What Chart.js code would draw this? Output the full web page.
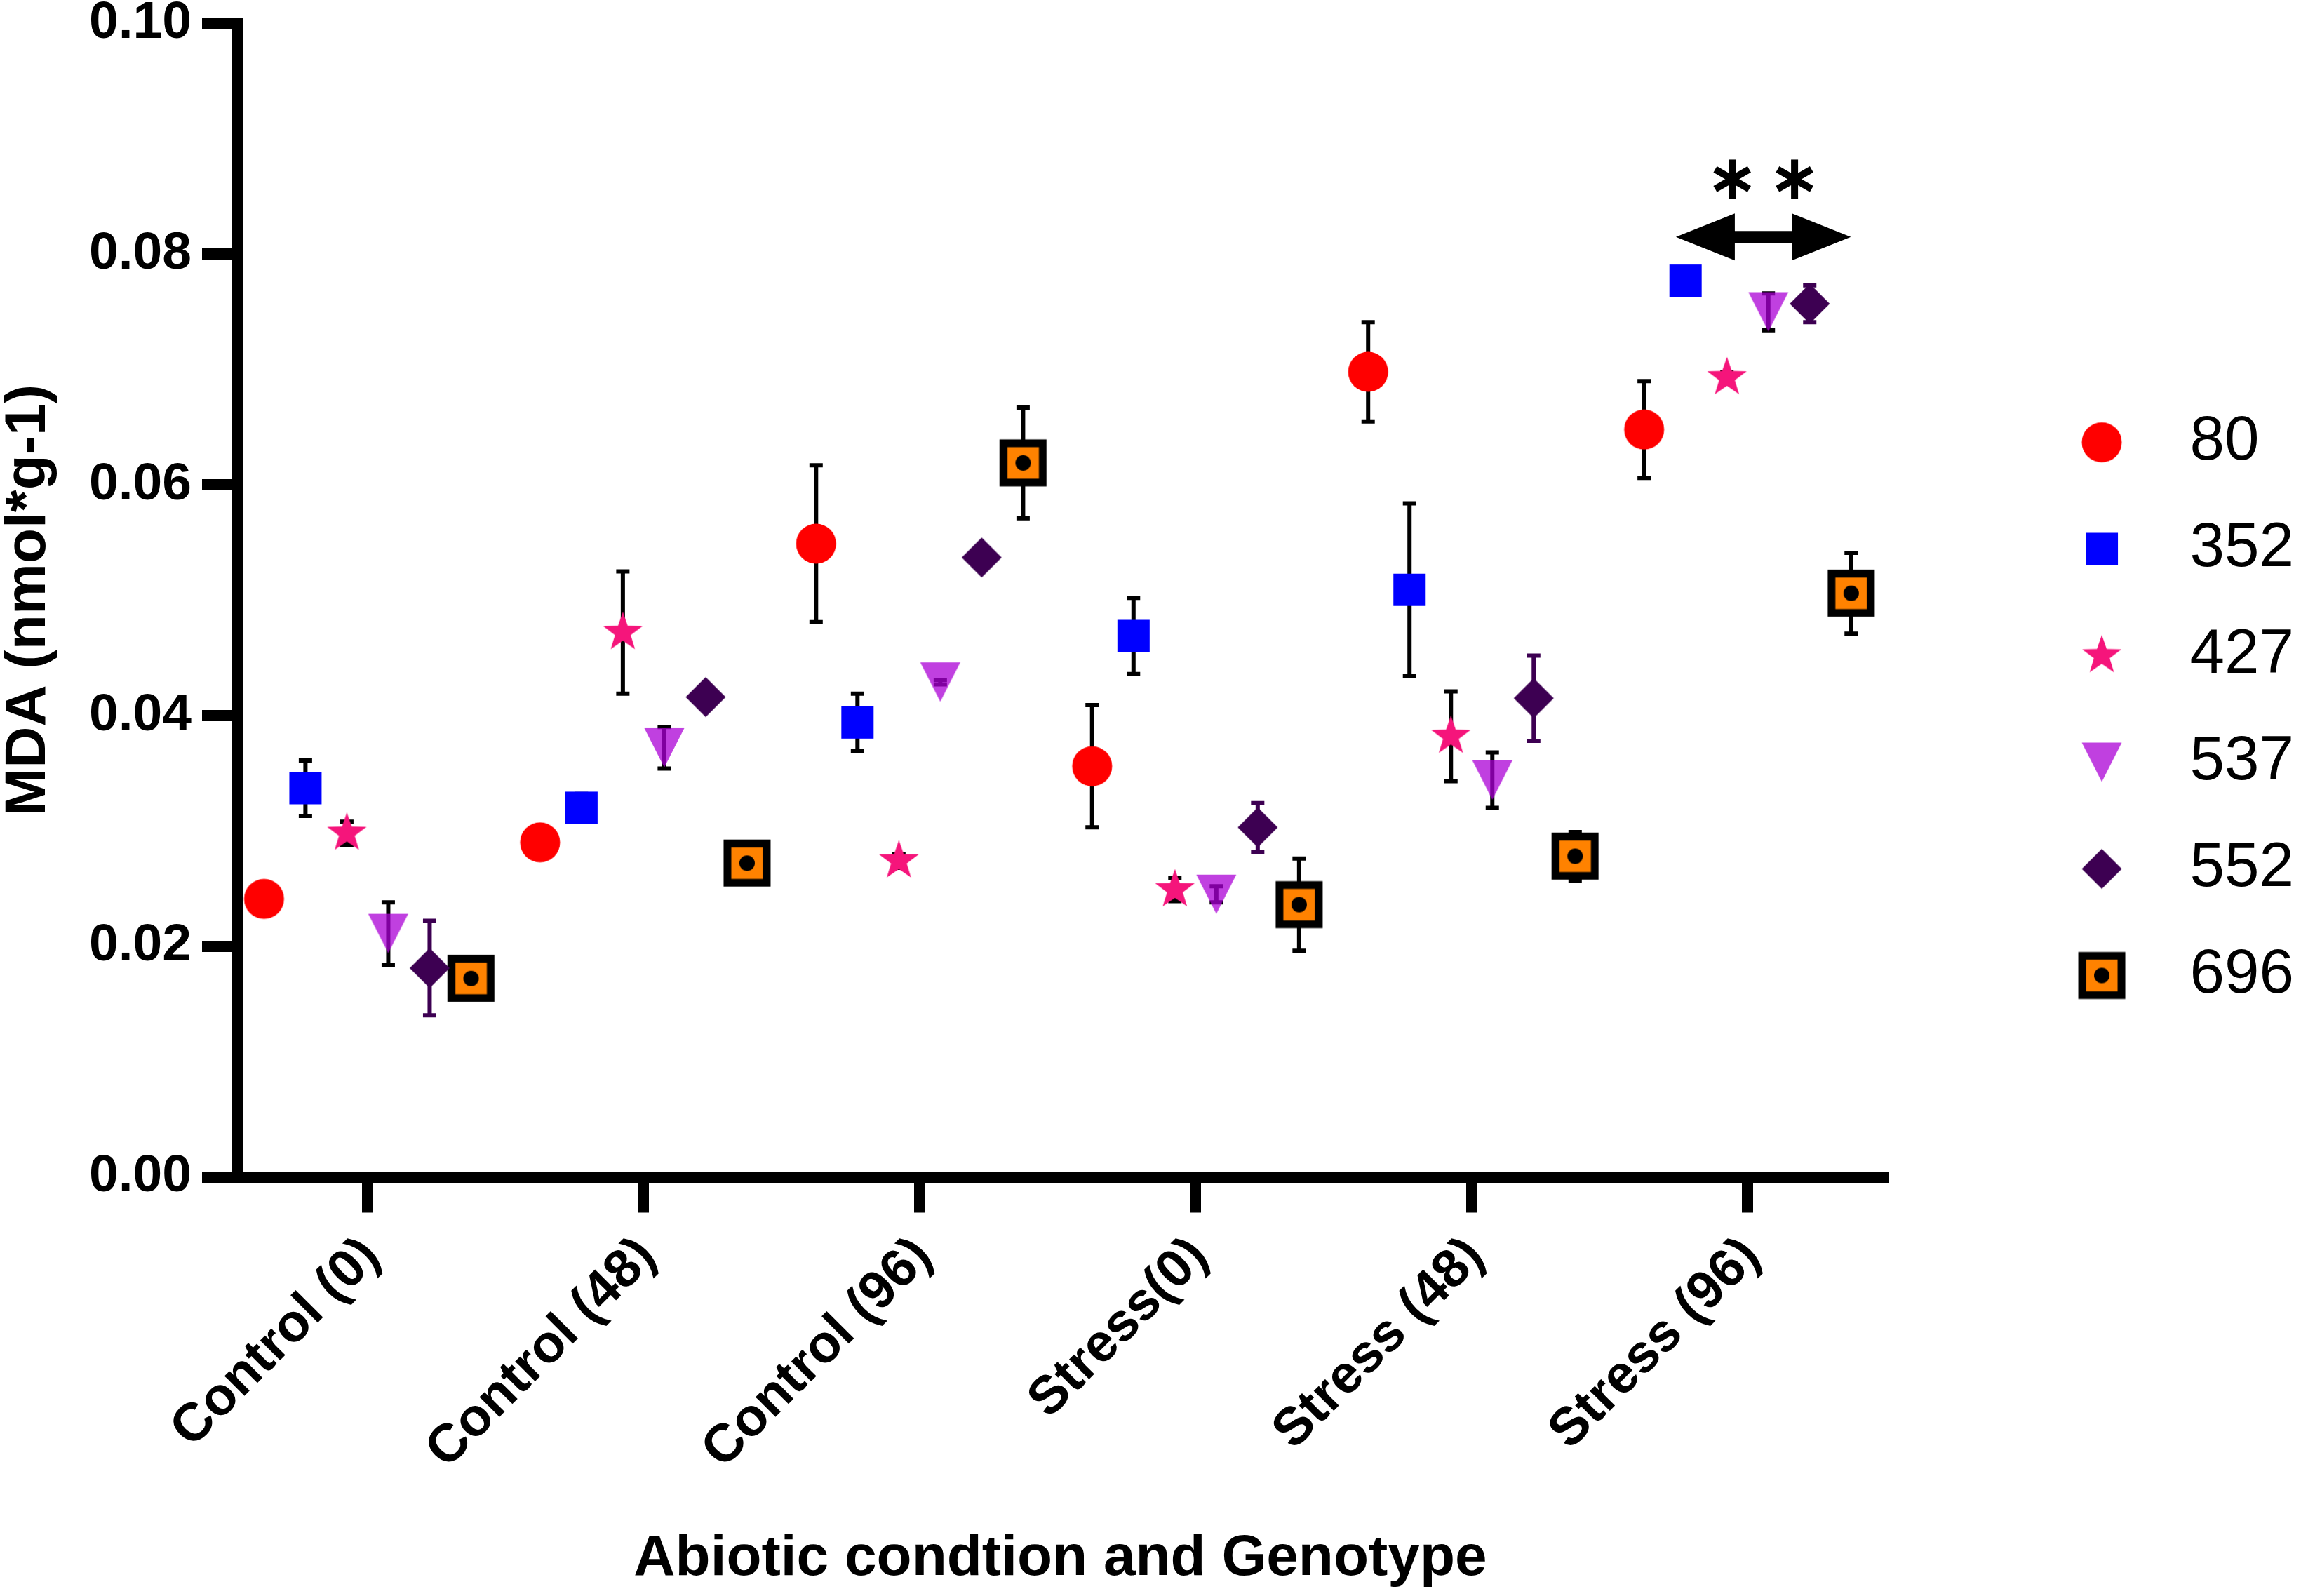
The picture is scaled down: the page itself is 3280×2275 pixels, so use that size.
<!DOCTYPE html>
<html>
<head>
<meta charset="utf-8">
<script src="https://cdn.jsdelivr.net/npm/chart.js@4.4.1/dist/chart.umd.min.js"></script>
<style>
html,body{margin:0;padding:0;background:#fff;}
#wrap{width:3280px;height:2275px;}
</style>
</head>
<body>
<div id="wrap"><canvas id="c" width="3280" height="2275" style="width:3280px;height:2275px"></canvas></div>
<script>
// ---------- data ----------
const categories = ['Control (0)', 'Control (48)', 'Control (96)', 'Stress(0)', 'Stress (48)', 'Stress (96)'];
const genotypes = ['80', '352', '427', '537', '552', '696'];

const mda80  = [0.0241, 0.0290, 0.0549, 0.0356, 0.0698, 0.0648];
const err80  = [0.0010, 0.0010, 0.0068, 0.0053, 0.0043, 0.0042];
const mda352 = [0.0337, 0.0320, 0.0394, 0.0469, 0.0509, 0.0777];
const err352 = [0.0024, 0.0012, 0.0025, 0.0033, 0.0075, 0.0010];
const mda427 = [0.0298, 0.0472, 0.0274, 0.0249, 0.0382, 0.0693];
const err427 = [0.0010, 0.0053, 0.0006, 0.0010, 0.0039, 0.0005];
const mda537 = [0.0211, 0.0372, 0.0429, 0.0245, 0.0344, 0.0750];
const err537 = [0.0027, 0.0018, 0.0002, 0.0007, 0.0024, 0.0016];
const mda552 = [0.0181, 0.0416, 0.0537, 0.0303, 0.0415, 0.0757];
const err552 = [0.0041, 0.0000, 0.0000, 0.0021, 0.0037, 0.0016];
const mda696 = [0.0172, 0.0272, 0.0619, 0.0236, 0.0278, 0.0506];
const err696 = [0.0010, 0.0010, 0.0048, 0.0040, 0.0021, 0.0035];

const yTickValues = [0, 0.02, 0.04, 0.06, 0.08, 0.10];

// significance annotation on the last group (relative to group centre, in category units)
const sigGroup = 5;
const sigArrowFrom = -0.26, sigArrowTo = 0.374, sigArrowY = 0.0815;
const sigStarsAt = [-0.056, 0.17], sigStarsY = 0.0865;

// ---------- styling ----------
const seriesValues = [mda80, mda352, mda427, mda537, mda552, mda696];
const seriesErrors = [err80, err352, err427, err537, err552, err696];
const errColors = ['#000', '#000', '#000', '#000', '#3D0052', '#000'];
const dodge = 0.15;
const FONT = '"Liberation Sans", Arial, Helvetica, sans-serif';

const shapeDrawers = [
  (g, cx, cy) => { g.fillStyle = '#FF0000'; g.beginPath(); g.arc(cx, cy, 28.5, 0, Math.PI * 2); g.fill(); },
  (g, cx, cy) => { g.fillStyle = '#0000FF'; g.fillRect(cx - 23, cy - 23, 46, 46); },
  (g, cx, cy) => {
    g.fillStyle = '#F5157B'; g.beginPath();
    for (let k = 0; k < 10; k++) {
      const r = k % 2 ? 11.8 : 29.5;
      const a = -Math.PI / 2 + k * Math.PI / 5;
      g.lineTo(cx + r * Math.cos(a), cy + r * Math.sin(a));
    }
    g.closePath(); g.fill();
  },
  (g, cx, cy) => {
    g.fillStyle = 'rgba(171,0,213,0.75)'; g.beginPath();
    g.moveTo(cx - 28.5, cy - 28); g.lineTo(cx + 28.5, cy - 28); g.lineTo(cx, cy + 28);
    g.closePath(); g.fill();
  },
  (g, cx, cy) => {
    g.fillStyle = '#3D0052'; g.beginPath();
    g.moveTo(cx, cy - 28.5); g.lineTo(cx + 28.5, cy); g.lineTo(cx, cy + 28.5); g.lineTo(cx - 28.5, cy);
    g.closePath(); g.fill();
  },
  (g, cx, cy) => {
    g.fillStyle = '#000'; g.fillRect(cx - 33.5, cy - 33.5, 67, 67);
    g.fillStyle = '#FF8200'; g.fillRect(cx - 22.5, cy - 22.5, 45, 45);
    g.fillStyle = '#000'; g.beginPath(); g.arc(cx, cy, 11, 0, Math.PI * 2); g.fill();
  }
];

function makeCanvas(w, h, cx, cy, draw) {
  const c = document.createElement('canvas');
  c.width = w; c.height = h;
  draw(c.getContext('2d'), cx, cy);
  return c;
}
const markerImgs = shapeDrawers.map(d => makeCanvas(72, 72, 36, 36, d));
const LEGEND_BOX = 330;
const legendImgs = shapeDrawers.map(d => makeCanvas(LEGEND_BOX, 80, 249, 40, d));

const datasets = genotypes.map((g, i) => ({
  label: g,
  data: seriesValues[i].map((v, j) => ({ x: j + (i - 2.5) * dodge, y: v })),
  pointStyle: markerImgs[i],
  pointRadius: 30,
  pointHoverRadius: 30,
  showLine: false
}));

// ---------- plugins ----------
const errorBarPlugin = {
  id: 'errbars',
  beforeDatasetsDraw(chart) {
    const { ctx } = chart;
    const xs = chart.scales.x, ys = chart.scales.y;
    ctx.save();
    ctx.lineWidth = 6;
    ctx.lineCap = 'butt';
    chart.data.datasets.forEach((ds, i) => {
      ctx.strokeStyle = errColors[i];
      ds.data.forEach((p, j) => {
        const e = seriesErrors[i][j];
        if (!e) return;
        const px = xs.getPixelForValue(p.x);
        const yt = ys.getPixelForValue(p.y + e);
        const yb = ys.getPixelForValue(p.y - e);
        ctx.beginPath();
        ctx.moveTo(px, yt); ctx.lineTo(px, yb);
        ctx.moveTo(px - 9.5, yt); ctx.lineTo(px + 9.5, yt);
        ctx.moveTo(px - 9.5, yb); ctx.lineTo(px + 9.5, yb);
        ctx.stroke();
      });
    });
    ctx.restore();
  }
};

const sigPlugin = {
  id: 'sig',
  afterDatasetsDraw(chart) {
    const { ctx } = chart;
    const xs = chart.scales.x, ys = chart.scales.y;
    const xl = xs.getPixelForValue(sigGroup + sigArrowFrom);
    const xr = xs.getPixelForValue(sigGroup + sigArrowTo);
    const yc = ys.getPixelForValue(sigArrowY);
    const hl = 84, hh = 33.5, sh = 8.5;
    ctx.save();
    ctx.fillStyle = '#000';
    ctx.beginPath();
    ctx.moveTo(xl, yc);
    ctx.lineTo(xl + hl, yc - hh); ctx.lineTo(xl + hl, yc - sh);
    ctx.lineTo(xr - hl, yc - sh); ctx.lineTo(xr - hl, yc - hh);
    ctx.lineTo(xr, yc);
    ctx.lineTo(xr - hl, yc + hh); ctx.lineTo(xr - hl, yc + sh);
    ctx.lineTo(xl + hl, yc + sh); ctx.lineTo(xl + hl, yc + hh);
    ctx.closePath(); ctx.fill();
    ctx.strokeStyle = '#000'; ctx.lineWidth = 10; ctx.lineCap = 'butt';
    const sy = ys.getPixelForValue(sigStarsY);
    sigStarsAt.forEach(off => {
      const sx = xs.getPixelForValue(sigGroup + off);
      [90, 30, -30].forEach(deg => {
        const a = deg * Math.PI / 180, L = 28;
        ctx.beginPath();
        ctx.moveTo(sx - L * Math.cos(a), sy - L * Math.sin(a));
        ctx.lineTo(sx + L * Math.cos(a), sy + L * Math.sin(a));
        ctx.stroke();
      });
    });
    ctx.restore();
  }
};

// ---------- chart ----------
const axisGrid = { display: true, drawOnChartArea: false, drawTicks: true, tickLength: 51, tickWidth: 16, tickColor: '#000', lineWidth: 16, color: '#000' };

new Chart(document.getElementById('c'), {
  type: 'scatter',
  data: { datasets },
  plugins: [errorBarPlugin, sigPlugin],
  options: {
    responsive: false,
    animation: false,
    devicePixelRatio: 1,
    layout: { padding: 0 },
    plugins: {
      tooltip: { enabled: false },
      legend: {
        position: 'right',
        align: 'start',
        fullSize: true,
        title: { display: true, text: ' ', font: { size: 10, lineHeight: 1 }, padding: { top: 513, bottom: 0 } },
        labels: {
          usePointStyle: true,
          pointStyleWidth: LEGEND_BOX,
          padding: 63,
          color: '#000',
          font: { family: FONT, size: 89, weight: 'normal' },
          generateLabels: chart => chart.data.datasets.map((ds, i) => ({
            text: ds.label, pointStyle: legendImgs[i], fillStyle: 'rgba(0,0,0,0)', strokeStyle: 'rgba(0,0,0,0)',
            lineWidth: 0, hidden: false, datasetIndex: i, fontColor: '#000'
          }))
        }
      }
    },
    scales: {
      x: {
        type: 'linear',
        min: -0.47,
        max: 5.49,
        afterBuildTicks: s => { s.ticks = categories.map((_, i) => ({ value: i })); },
        afterFit: s => { s.height = 597.5; s.paddingLeft = 0; s.paddingRight = 0; s.paddingTop = 0; s.paddingBottom = 0; },
        border: { display: true, color: '#000', width: 16 },
        grid: axisGrid,
        ticks: {
          autoSkip: false, minRotation: 45, maxRotation: 45, padding: 18, labelOffset: 6, color: '#000',
          font: { family: FONT, size: 76, weight: 'bold' },
          callback: v => categories[v] !== undefined ? categories[v] : ''
        },
        title: { display: true, text: 'Abiotic condtion and Genotype', color: '#000', font: { family: FONT, size: 82, weight: 'bold' }, padding: { top: 0, bottom: 3 } }
      },
      y: {
        type: 'linear',
        min: 0,
        max: 0.1,
        afterBuildTicks: s => { s.ticks = yTickValues.map(v => ({ value: v })); },
        afterFit: s => { s.width = 339; s.paddingTop = 33.5; s.paddingBottom = 0; },
        border: { display: true, color: '#000', width: 16 },
        grid: axisGrid,
        ticks: {
          padding: 15, color: '#000',
          font: { family: FONT, size: 75, weight: 'bold' },
          callback: v => Number(v).toFixed(2)
        },
        title: { display: true, text: 'MDA (nmol*g-1)', color: '#000', font: { family: FONT, size: 82, weight: 'bold', lineHeight: 1 }, padding: { top: 0, bottom: 0 } }
      }
    }
  }
});
</script>
</body>
</html>
